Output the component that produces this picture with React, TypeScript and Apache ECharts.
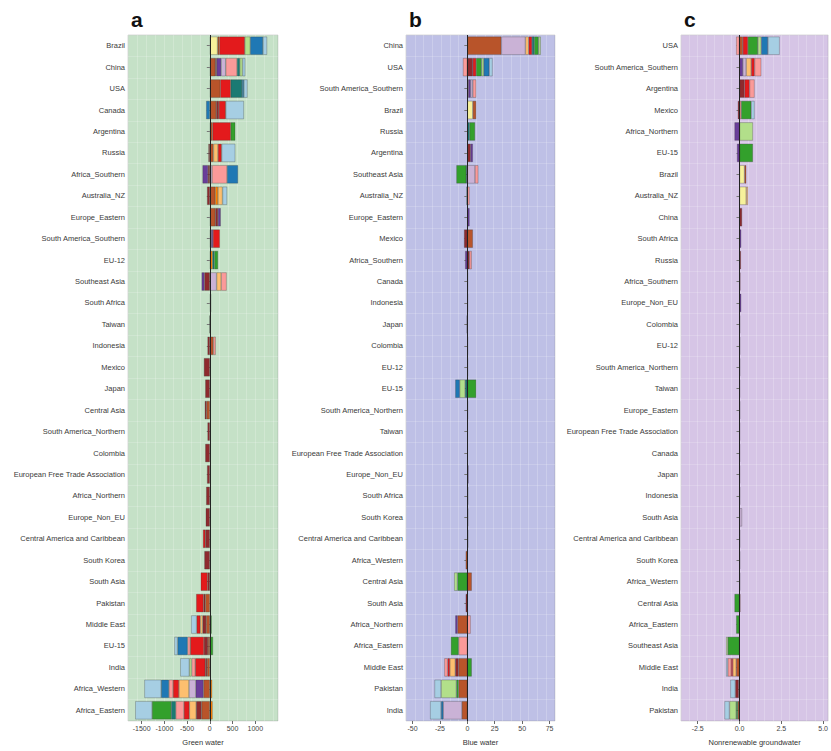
import React, { useEffect, useRef } from "react";
import * as echarts from "echarts";

// ---- categories (top to bottom) ----
const regionsA = ["Brazil","China","USA","Canada","Argentina","Russia","Africa_Southern","Australia_NZ","Europe_Eastern","South America_Southern","EU-12","Southeast Asia","South Africa","Taiwan","Indonesia","Mexico","Japan","Central Asia","South America_Northern","Colombia","European Free Trade Association","Africa_Northern","Europe_Non_EU","Central America and Caribbean","South Korea","South Asia","Pakistan","Middle East","EU-15","India","Africa_Western","Africa_Eastern"];
const regionsB = ["China","USA","South America_Southern","Brazil","Russia","Argentina","Southeast Asia","Australia_NZ","Europe_Eastern","Mexico","Africa_Southern","Canada","Indonesia","Japan","Colombia","EU-12","EU-15","South America_Northern","Taiwan","European Free Trade Association","Europe_Non_EU","South Africa","South Korea","Central America and Caribbean","Africa_Western","Central Asia","South Asia","Africa_Northern","Africa_Eastern","Middle East","Pakistan","India"];
const regionsC = ["USA","South America_Southern","Argentina","Mexico","Africa_Northern","EU-15","Brazil","Australia_NZ","China","South Africa","Russia","Africa_Southern","Europe_Non_EU","Colombia","EU-12","South America_Northern","Taiwan","Europe_Eastern","European Free Trade Association","Canada","Japan","Indonesia","South Asia","Central America and Caribbean","South Korea","Africa_Western","Central Asia","Africa_Eastern","Southeast Asia","Middle East","India","Pakistan"];

// ---- component keys and colours ----
const componentKeys = ["yellow","brown","darkred","purple","lightpurple","orange","lightorange","red","pink","teal","green","lightgreen","blue","lightblue"];
const componentColors = ["#F7F19B","#B8542A","#8E2A2E","#6A3D9A","#CAB2D6","#FF7F00","#FDBF6F","#E31A1C","#FB9A99","#1B7A73","#33A02C","#B2DF8A","#1F78B4","#A6CEE3"];

// ---- panel a : green water ----
const aYellow = [170,0,0,0,0,0,0,0,0,0,0,0,0,0,0,0,0,0,0,0,0,0,0,0,0,0,0,0,0,0,0,0];
const aBrown = [40,120,230,140,60,80,0,120,120,30,0,0,0,0,80,0,0,-70,0,0,0,0,0,0,0,0,-100,-80,-40,-60,-140,-180];
const aDarkred = [0,30,0,60,0,-30,-40,-60,60,0,0,-120,0,-10,-50,-130,-100,-40,-50,-100,-60,-80,-90,-100,-120,-50,-40,-80,-90,-40,0,-120];
const aPurple = [0,100,0,0,0,0,-120,0,60,40,0,-60,0,0,0,0,0,0,0,0,0,0,0,0,0,0,0,0,0,0,-170,0];
const aLightpurple = [0,100,0,0,0,0,50,0,0,0,0,150,0,0,0,0,0,0,0,0,0,0,0,0,0,0,0,0,0,0,-150,0];
const aOrange = [0,0,0,0,0,0,0,60,0,0,60,0,0,0,0,0,0,0,0,0,0,0,0,0,0,0,0,0,0,0,50,60];
const aLightorange = [0,0,0,0,0,100,0,100,0,0,0,100,0,0,0,0,0,0,0,0,0,0,0,0,0,0,0,-50,0,0,-220,-150];
const aRed = [560,0,230,150,400,80,0,0,0,150,0,0,0,0,0,0,0,0,0,0,0,0,0,-50,0,-150,-160,-80,-300,-220,-130,-120];
const aPink = [0,250,0,0,0,0,330,0,0,0,0,120,0,0,50,0,0,0,0,0,0,0,0,0,0,0,0,0,-60,-80,-90,-180];
const aTeal = [0,60,250,0,0,0,0,0,0,0,40,0,0,0,0,0,0,0,0,0,0,0,0,0,0,0,0,0,0,0,0,-100];
const aGreen = [0,0,0,0,100,0,0,0,0,0,80,0,30,0,0,0,0,0,0,0,0,0,0,0,0,0,0,40,70,0,0,-420];
const aLightgreen = [120,60,0,0,0,0,0,0,0,0,0,0,0,0,0,0,0,0,0,0,0,0,0,0,0,0,0,0,0,-50,0,0];
const aBlue = [280,0,40,-80,0,0,240,0,0,0,0,0,0,0,0,0,0,0,0,0,0,0,0,0,0,0,0,0,-220,0,-170,0];
const aLightblue = [90,60,80,400,0,300,0,100,0,0,0,0,0,0,0,0,0,0,0,0,0,0,0,0,0,20,0,-120,-70,-200,-370,-370];

// ---- panel b : blue water ----
const bYellow = [0,0,0,5,0,0,0,0,0,0,0,0,0,0,0,0,0,0,0,0,0,0,0,0,0,0,0,0,0,0,0,0];
const bBrown = [31,0,1,3,0,0,0,0,0,5,0,0.5,0.5,0,0,0,0,0,0,0,0,0,0,0,-1.5,4,0,-9,0,-8,-8,-5];
const bDarkred = [0,5,0,0,0,3,0,0,0,-3,2,0,0,-0.5,0.5,0.5,0,0.5,0.3,0.3,0,0,0,0.8,0,0,-1.5,0,0,-3,0,0];
const bPurple = [0,0,2,0,0,2,0,0,2,0,-2,0,0,0,0,0,0,0,0,0,1,0.8,0.8,0,0,0,0,-2,0,0,0,0];
const bLightpurple = [22,0,2,0,0,0,7,0,0,0,0,0,0,0,0,0,0,0,0,0,0,0,0,0,0,0,0,0,0,0,0,-17];
const bOrange = [0,0,0,0,0,0,0,0,0,0,0,0,0,0,0,0,0,0,0,0,0,0,0,0,0,0,0,0,0,0,0,0];
const bLightorange = [3,0,0,0,0,0,0,0,0,0,0,0,0,0,0,0,0,0,0,0,0,0,0,0,0,0,0,0,0,-5,0,0];
const bRed = [3,3,0,0,0,0,0,0,0,0,0,0,0,0,0,0,0,0,0,0,0,0,0,0,0,0,0,0,0,-2,0,0];
const bPink = [0,-4,3,0,0,0,3,2,0,0,2,0,0,0,0,0,0,0,0,0,0,0,0,0,0,0,0,3,-8,-3,0,0];
const bTeal = [2,0,0,0,2,0,-1,0,0,0,0,0,0,0,0,0,-2,0,0,0,0,0,0,0,0,0,0,0,0,0,0,0];
const bGreen = [4,5,0,0,5,0,-9,0,0,0,0,0,0,0,0,0,8,0,0,0,0,0,0,0,0,-9,0,0,-7,4,-2,0];
const bLightgreen = [2,2,0,0,0,0,0,0,0,0,0,0,0,0,0,0,-5,0,0,0,0,0,0,0,0,-3,0,0,0,0,-14,0];
const bBlue = [0,5,0,0,0,0,0,0,0,0,0,0,0,0,0,0,-4,0,0,0,0,0,0,0,0,0,0,0,0,0,0,-2];
const bLightblue = [0,3,0,0,0,0,0,-1,0,0,0,0,0,0,0,0,0,0,0,0,0,0,0,0,0,0,0,0,0,0,-6,-10];

// ---- panel c : nonrenewable groundwater ----
const cYellow = [0,0,0,0,0,0,0.3,0.4,0,0,0,0,0,0,0,0,0,0,0,0,0,0,0,0,0,0,0,0,0,0,0,0];
const cBrown = [0.2,0,0,0,0,0,0.1,0,0,0,0,0,0,0,0,0,0,0,0,0,0,0,0,0,0,0,0.05,0,0,-0.2,-0.05,-0.1];
const cDarkred = [0,0,0.3,-0.1,0,0,0,0,0.15,0,0.08,0.05,0,0.03,0.03,0.03,0.02,0.03,0.02,0.02,0.02,0.03,0,0.03,0.03,0.03,0,0,0,0,-0.2,0];
const cPurple = [0,0.2,0,0,-0.3,-0.15,0,0,0,0.1,0,0,0.1,0,0,0,0,0,0,0,0,0,0,0,0,0,0,0,0,0,0,0];
const cLightpurple = [0,0.2,0,0,0,0,0,0,0,0,0,0,0,0,0,0,0,0,0,0,0,0,0.15,0,0,0,0,0,0,0,0,0];
const cOrange = [0,0,0,0,0,0,0,0,0,0,0,0,0,0,0,0,0,0,0,0,0,0,0,0,0,0,0,0,0,0,0,0];
const cLightorange = [0,0.3,0,0,0,0,0,0.1,0,0,0,0,0,0,0,0,0,0,0,0,0,0,0,0,0,0,0,0,0,-0.2,0,0];
const cRed = [0.3,0.2,0.3,0,0,0,0,0,0,0,0,0,0,0,0,0,0,0,0,0,0,0,0,0,0,0,0,0,0,-0.1,0,0];
const cPink = [-0.2,0.4,0.3,0.1,0,0,0,0,0,0,0,0,0,0,0,0,0,0,0,0,0,0,0,0,0,0,0,0,0,-0.2,0,0];
const cTeal = [0,0,0,0,0,0,0,0,0,0,0,0,0,0,0,0,0,0,0,0,0,0,0,0,0,0,0,0,0,0,0,0];
const cGreen = [0.6,0,0,0.6,0,0.8,0,0,0,0,0,0,0,0,0,0,0,0,0,0,0,0,0,0,0,0,-0.3,-0.2,-0.7,0,0,-0.1];
const cLightgreen = [0.2,0,0,0,0.8,0,0,0,0,0,0,0,0,0,0,0,0,0,0,0,0,0,0,0,0,0,0,0,-0.1,0,0,-0.4];
const cBlue = [0.4,0,0,0,0,0,0,0,0,0,0,0,0,0,0,0,0,0,0,0,0,0,0,0,0,0,0,0,0,0,0,0];
const cLightblue = [0.7,0,0,0.2,0,0,0,0,0,0,0,0,0,0,0,0,0,0,0,0,0,0,0,0,0,0,0,0,0,-0.1,-0.3,-0.3];

// ---- axes ----
const panelLetters = ["a","b","c"];
const axisNames = ["Green water","Blue water","Nonrenewable groundwater"];
const tickValuesA = [-1500,-1000,-500,0,500,1000];
const tickValuesB = [-50,-25,0,25,50,75];
const tickValuesC = [-2.5,0,2.5,5];

const panels = [
  { regions: regionsA, data: [aYellow,aBrown,aDarkred,aPurple,aLightpurple,aOrange,aLightorange,aRed,aPink,aTeal,aGreen,aLightgreen,aBlue,aLightblue],
    ticks: tickValuesA, min: -1800, max: 1500, gridInterval: 200, bg: "#C5E1C7", left: 128, width: 150, fmt: (v: number) => String(v) },
  { regions: regionsB, data: [bYellow,bBrown,bDarkred,bPurple,bLightpurple,bOrange,bLightorange,bRed,bPink,bTeal,bGreen,bLightgreen,bBlue,bLightblue],
    ticks: tickValuesB, min: -56, max: 80, gridInterval: 8, bg: "#BEC0E6", left: 406, width: 149, fmt: (v: number) => String(v) },
  { regions: regionsC, data: [cYellow,cBrown,cDarkred,cPurple,cLightpurple,cOrange,cLightorange,cRed,cPink,cTeal,cGreen,cLightgreen,cBlue,cLightblue],
    ticks: tickValuesC, min: -3.5, max: 5.3, gridInterval: 0.5, bg: "#D6C5E6", left: 681, width: 150, fmt: (v: number) => v.toFixed(1) },
];

export default function App() {
  const ref = useRef<HTMLDivElement>(null);
  useEffect(() => {
    if (!ref.current) return;
    const chart = echarts.init(ref.current, null, { renderer: "svg" });
    const top = 35, height = 687;
    const grids: any[] = [];
    const xAxes: any[] = [];
    const yAxes: any[] = [];
    const series: any[] = [];
    const titles: any[] = [];
    panels.forEach((p, i) => {
      grids.push({ left: p.left, top, width: p.width, height, show: true, backgroundColor: p.bg, borderColor: "rgba(110,110,110,0.5)", borderWidth: 0.5, containLabel: false });
      titles.push({ text: panelLetters[i], left: p.left - 2, top: 4, textStyle: { fontSize: 21, fontWeight: "bold", color: "#111", fontFamily: "Liberation Sans, Arial, sans-serif" } });
      xAxes.push({
        type: "value", gridIndex: i, min: p.min, max: p.max,
        name: axisNames[i], nameLocation: "middle", nameGap: 17,
        nameTextStyle: { fontSize: 7.5, color: "#333", fontFamily: "Liberation Sans, Arial, sans-serif" },
        axisLine: { show: false },
        axisTick: { show: true, length: 3, lineStyle: { color: "#666" }, customValues: p.ticks },
        axisLabel: { fontSize: 7, color: "#444", margin: 4, customValues: p.ticks, formatter: p.fmt, fontFamily: "Liberation Sans, Arial, sans-serif" },
        splitLine: { show: false },
      });
      xAxes.push({
        type: "value", gridIndex: i, min: p.min, max: p.max, interval: p.gridInterval,
        axisLine: { show: false }, axisTick: { show: false }, axisLabel: { show: false },
        splitLine: { show: true, lineStyle: { color: "rgba(255,255,255,0.35)", width: 0.6 } },
      });
      yAxes.push({
        type: "category", gridIndex: i, data: p.regions, inverse: true,
        axisLine: { show: false },
        axisTick: { show: true, length: 3, alignWithLabel: true, lineStyle: { color: "#777" } },
        axisLabel: { fontSize: 7.5, color: "#3a3a3a", margin: 3, fontFamily: "Liberation Sans, Arial, sans-serif" },
        splitLine: { show: true, lineStyle: { color: "rgba(255,255,255,0.3)", width: 0.6 } },
      });
      componentKeys.forEach((k, j) => {
        const s: any = {
          type: "bar", name: k, xAxisIndex: i * 2, yAxisIndex: i, stack: "p" + i,
          barWidth: "85%",
          data: p.data[j].map((v) => (v === 0 ? null : v)),
          itemStyle: { color: componentColors[j], borderColor: "rgba(50,50,50,0.55)", borderWidth: 0.5 },
        };
        if (j === 1) {
          s.markLine = {
            silent: true, symbol: "none", label: { show: false },
            lineStyle: { color: "#222", width: 1, type: "solid" },
            data: [{ xAxis: 0 }],
          };
        }
        series.push(s);
      });
    });
    chart.setOption({
      animation: false,
      backgroundColor: "#ffffff",
      title: titles,
      grid: grids,
      xAxis: xAxes,
      yAxis: yAxes,
      series,
    });
    return () => chart.dispose();
  }, []);
  return <div ref={ref} style={{ position: "fixed", left: 0, top: 0, width: 831, height: 751 }} />;
}
